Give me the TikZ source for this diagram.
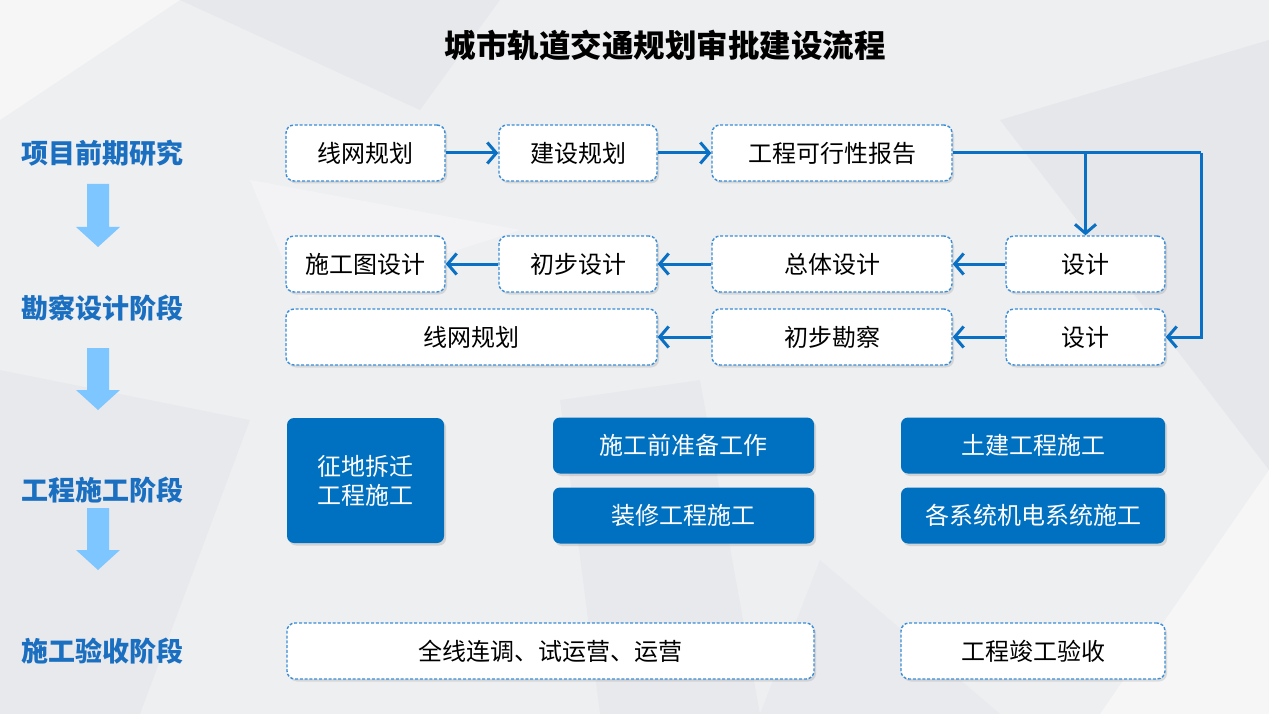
\documentclass[tikz,border=0pt]{standalone}
\usepackage{fontspec}
\setmainfont{Noto Sans CJK SC}
\usetikzlibrary{arrows.meta,shadows}
\definecolor{bg}{HTML}{EEEFF1}
\definecolor{facetA}{HTML}{E2E3E7}
\definecolor{facetB}{HTML}{F6F6F7}
\definecolor{mainblue}{HTML}{0A70C4}
\definecolor{dashblue}{HTML}{3A8DD6}
\definecolor{fillblue}{HTML}{0070C0}
\definecolor{stageblue}{HTML}{1A6FC0}
\definecolor{lightarrow}{HTML}{7EC6FF}
\tikzset{
  dbox/.style={draw=dashblue, line width=1.4pt, dash pattern=on 3pt off 1.8pt, fill=white,
    rounded corners=8pt, minimum height=56pt, inner sep=0pt, font=\fontsize{24}{28}\selectfont,
    drop shadow={opacity=0.22, shadow xshift=2pt, shadow yshift=-2.5pt}},
  fbox/.style={fill=fillblue, rounded corners=7pt, minimum height=56pt, inner sep=0pt, text=white,
    font=\fontsize{24}{29}\selectfont, align=center,
    drop shadow={opacity=0.25, shadow xshift=2pt, shadow yshift=-2.5pt}},
  stage/.style={text=stageblue, font=\fontsize{27}{32}\selectfont\bfseries},
  flow/.style={draw=mainblue, line width=3pt, -{Straight Barb[length=9pt,width=21pt,line width=3pt]}},
  flowline/.style={draw=mainblue, line width=3pt},
  bigarrow/.style={fill=lightarrow}
}
\begin{document}
\begin{tikzpicture}[x=1pt,y=-1pt]
% background
\fill[bg] (0,0) rectangle (1269,714);
\useasboundingbox (0,0) rectangle (1269,714);
\fill[facetA, opacity=0.55] (180,0) -- (500,0) -- (420,110) -- cycle;
\fill[facetB] (0,0) -- (180,0) -- (0,120) -- cycle;
\fill[facetA, opacity=0.45] (0,370) -- (250,420) -- (140,714) -- (0,714) -- cycle;
\fill[facetA, opacity=0.6] (1000,120) -- (1269,40) -- (1269,470) -- cycle;
\fill[facetB] (1269,470) -- (1269,714) -- (1100,714) -- cycle;
\fill[facetA, opacity=0.45] (560,400) -- (700,380) -- (760,714) -- (600,714) -- cycle;
\fill[facetB, opacity=0.7] (250,180) -- (520,230) -- (300,300) -- cycle;
\fill[facetA, opacity=0.4] (820,560) -- (1000,714) -- (760,714) -- cycle;

% title
\node (title) at (665,45) {\fontsize{31.5}{36}\selectfont\bfseries 城市轨道交通规划审批建设流程};

% stage labels
\node[stage] (s1) at (102,153) {项目前期研究};
\node[stage] (s2) at (102,308) {勘察设计阶段};
\node[stage] (s3) at (102,490) {工程施工阶段};
\node[stage] (s4) at (102,651) {施工验收阶段};

% big light arrows
\foreach \t/\h/\tip in {184/227/247, 348/390/410, 508/550/570}{
  \fill[bigarrow] (87,\t) -- (109,\t) -- (109,\h) -- (120,\h) -- (98,\tip) -- (76,\h) -- (87,\h) -- cycle;
}

% row 1
\node[dbox, minimum width=159pt] (a1) at (365.5,153) {线网规划};
\node[dbox, minimum width=158pt] (a2) at (578,153) {建设规划};
\node[dbox, minimum width=240pt] (a3) at (832,153) {工程可行性报告};
% row 2
\node[dbox, minimum width=159pt] (b1) at (365.5,264) {施工图设计};
\node[dbox, minimum width=158pt] (b2) at (578,264) {初步设计};
\node[dbox, minimum width=240pt] (b3) at (832,264) {总体设计};
\node[dbox, minimum width=159pt] (b4) at (1085.5,264) {设计};
% row 3
\node[dbox, minimum width=371pt] (c1) at (471.5,337) {线网规划};
\node[dbox, minimum width=240pt] (c2) at (832,337) {初步勘察};
\node[dbox, minimum width=159pt] (c3) at (1085.5,337) {设计};

% connectors
\draw[flow] (a1) -- (a2);
\draw[flow] (a2) -- (a3);
\coordinate (corner1) at (1201,153);
\coordinate (corner2) at (1201,337);
\coordinate (branch) at (1085.5,153);
\draw[flowline] (a3.east) -- (corner1);
\draw[flow] (corner1) -- (corner2) -- (c3.east);
\draw[flow] (branch) -- (b4.north);
\draw[flow] (b4) -- (b3);
\draw[flow] (b3) -- (b2);
\draw[flow] (b2) -- (b1);
\draw[flow] (c3) -- (c2);
\draw[flow] (c2) -- (c1);

% construction
\node[fbox, minimum width=157pt, minimum height=125pt] (d1) at (365.5,480.5) {征地拆迁\\工程施工};
\node[fbox, minimum width=261pt] (d2) at (683.5,445.5) {施工前准备工作};
\node[fbox, minimum width=261pt] (d3) at (683.5,515.5) {装修工程施工};
\node[fbox, minimum width=264pt] (d4) at (1033,445.5) {土建工程施工};
\node[fbox, minimum width=264pt] (d5) at (1033,515.5) {各系统机电系统施工};

% acceptance
\node[dbox, minimum width=527pt] (e1) at (550.5,651) {全线连调、试运营、运营};
\node[dbox, minimum width=264pt] (e2) at (1033,651) {工程竣工验收};
\end{tikzpicture}
\end{document}
